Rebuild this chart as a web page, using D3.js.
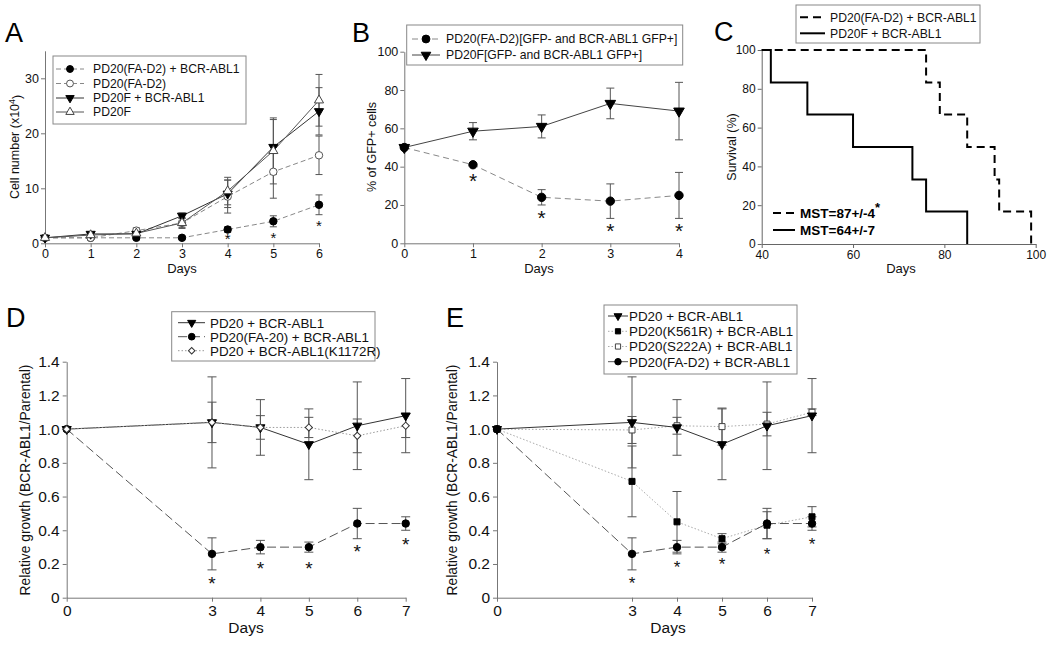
<!DOCTYPE html>
<html><head><meta charset="utf-8">
<script src="https://cdn.jsdelivr.net/npm/d3@7"></script>
<style>body{margin:0;background:#fff} svg text{font-family:"Liberation Sans",Arial,Helvetica,sans-serif}</style>
</head><body><svg id="c" width="1050" height="645"></svg>
<script>
// ---------- DATA ----------
// Panel A
const daysA = [0,1,2,3,4,5,6];
const aFad2Bcr = [1,1,1,1,2.5,4,7];
const aFad2BcrErr = [0.2,0.2,0.2,0.2,0.5,1.0,1.8];
const aFad2 = [1,1,2.3,3.7,8.5,13,16];
const aFad2Err = [0.2,0.3,0.5,1.0,3.0,4.8,3.5];
const aPd20fBcr = [1,1.7,1.7,5,9,17.5,24];
const aPd20fBcrErr = [0.2,0.3,0.3,0.5,2.5,5.0,4.3];
const aPd20f = [1,1.5,1.8,3.7,9.5,16.8,26];
const aPd20fErr = [0.2,0.3,0.3,0.8,2.5,6.0,4.7];
const aStarDays = [4,5,6];
const aStarY = [1.3,1.6,3.8];
const aLabels = ["PD20(FA-D2) + BCR-ABL1","PD20(FA-D2)","PD20F + BCR-ABL1","PD20F"];
const aYTicks = [0,10,20,30];

// Panel B
const daysB = [0,1,2,3,4];
const bFad2 = [50,41,24,22,25];
const bFad2Err = [0,0,4,9,12];
const bPd20f = [50,58.5,61,73,69];
const bPd20fErr = [0,4.5,6,8,15];
const bStarDays = [1,2,3,4];
const bStarY = [34.8,15.7,8.7,8.7];
const bLabels = ["PD20(FA-D2)[GFP- and BCR-ABL1 GFP+]","PD20F[GFP- and BCR-ABL1 GFP+]"];
const bYTicks = [0,20,40,60,80,100];

// Panel C (Kaplan-Meier steps)
const cFad2Times = [40,76,79,85,91,92,99];
const cFad2Surv = [100,83.3,66.7,50,33.3,16.7,0];
const cPd20fTimes = [40,42,50,60,73,76,85];
const cPd20fSurv = [100,83.3,66.7,50,33.3,16.7,0];
const cLabels = ["PD20(FA-D2) + BCR-ABL1","PD20F + BCR-ABL1"];
const cMst = ["MST=87+/-4","MST=64+/-7"];
const cXTicks = [40,60,80,100];
const cYTicks = [0,20,40,60,80,100];

// Panel D
const daysD = [0,3,4,5,6,7];
const dPd20 = [1.0,1.04,1.01,0.91,1.02,1.08];
const dPd20Err = [0,0.27,0.165,0.21,0.26,0.22];
const dFa20 = [1.0,0.26,0.30,0.30,0.44,0.44];
const dFa20Err = [0,0.095,0.04,0.03,0.09,0.04];
const dK1172r = [1.0,1.04,1.01,1.01,0.96,1.02];
const dK1172rErr = [0,0.12,0.07,0.06,0.10,0.07];
const dStarDays = [3,4,5,6,7];
const dStarY = [0.105,0.194,0.194,0.30,0.34];
const dLabels = ["PD20 + BCR-ABL1","PD20(FA-20) + BCR-ABL1","PD20 + BCR-ABL1(K1172R)"];

// Panel E
const daysE = [0,3,4,5,6,7];
const ePd20 = [1.0,1.04,1.01,0.91,1.02,1.08];
const ePd20Err = [0,0.27,0.165,0.21,0.26,0.22];
const eK561r = [1.0,0.69,0.45,0.35,0.43,0.48];
const eK561rErr = [0,0.21,0.18,0.03,0.08,0.06];
const eS222a = [1.0,0.995,1.02,1.015,1.03,1.10];
const eS222aErr = [0,0.08,0.05,0.11,0.07,0.02];
const eFad2 = [1.0,0.26,0.30,0.30,0.44,0.44];
const eFad2Err = [0,0.095,0.04,0.03,0.09,0.04];
const eStarDays = [3,4,5,6,7];
const eStarY = [0.11,0.20,0.22,0.28,0.34];
const eLabels = ["PD20 + BCR-ABL1","PD20(K561R) + BCR-ABL1","PD20(S222A) + BCR-ABL1","PD20(FA-D2) + BCR-ABL1"];

const relXTicks = [0,3,4,5,6,7];
const relYTicks = [0,0.2,0.4,0.6,0.8,1.0,1.2,1.4];

// ---------- DRAWING ----------
const svg = d3.select('#c');

const MK = {
  circleFilled:{sym:d3.symbolCircle,fill:'#000',size:44,rot:0},
  circleOpen:{sym:d3.symbolCircle,fill:'#fff',size:44,rot:0},
  triDown:{sym:d3.symbolTriangle,fill:'#000',size:36,rot:180},
  triUpOpen:{sym:d3.symbolTriangle,fill:'#fff',size:36,rot:0},
  squareFilled:{sym:d3.symbolSquare,fill:'#000',size:36,rot:0},
  squareOpen:{sym:d3.symbolSquare,fill:'#fff',size:36,rot:0},
  diamondOpen:{sym:d3.symbolSquare,fill:'#fff',size:26,rot:45}
};
function marker(g,type,cx,cy,k,stroke){
  const m = MK[type];
  g.append('path').attr('d',d3.symbol(m.sym,m.size*(k||1))())
    .attr('transform',`translate(${cx},${cy}) rotate(${m.rot})`)
    .attr('fill',m.fill).attr('stroke',stroke||'#000').attr('stroke-width',1);
}

function axes(g,x,y,p){
  const ax = g.append('g').attr('transform',`translate(0,${y.range()[0]})`)
    .call(d3.axisBottom(x).tickValues(p.xTicks).tickSize(4).tickSizeOuter(0).tickPadding(p.xPad||2).tickFormat(p.xFmt||(d=>d)));
  const ay = g.append('g').attr('transform',`translate(${x.range()[0]},0)`)
    .call(d3.axisLeft(y).tickValues(p.yTicks).tickSize(4).tickSizeOuter(0).tickPadding(p.yPad||2).tickFormat(p.yFmt||(d=>d)));
  [ax,ay].forEach(a=>{
    a.selectAll('path,line').attr('stroke',p.axisColor||'#777').attr('stroke-width',1);
    a.selectAll('text').attr('font-size',p.tickFs).attr('fill','#111');
  });
}

function series(g,x,y,list,capW){
  list.forEach(s=>{
    g.append('path').attr('d',d3.line()(s.x.map((d,i)=>[x(d),y(s.y[i])])))
      .attr('fill','none').attr('stroke',s.color).attr('stroke-width',s.w||1)
      .attr('stroke-dasharray',s.dash||null);
  });
  list.forEach(s=>{
    if(!s.err) return;
    s.x.forEach((d,i)=>{
      const e=s.err[i]; if(!e) return;
      const cx=x(d), y1=y(s.y[i]-e), y2=y(s.y[i]+e);
      g.append('line').attr('x1',cx).attr('x2',cx).attr('y1',y1).attr('y2',y2).attr('stroke','#555').attr('stroke-width',1);
      [y1,y2].forEach(yy=>g.append('line').attr('x1',cx-capW/2).attr('x2',cx+capW/2).attr('y1',yy).attr('y2',yy).attr('stroke','#555').attr('stroke-width',1));
    });
  });
  list.forEach(s=>{
    s.x.forEach((d,i)=>marker(g,s.mk,x(d),y(s.y[i]),s.k,s.mstroke));
  });
}

function stars(g,x,y,days,vals,fs,weight){
  days.forEach((d,i)=>{
    g.append('text').attr('x',x(d)).attr('y',y(vals[i])+0.55*fs)
      .attr('text-anchor','middle').attr('font-size',fs).attr('font-weight',weight||'normal').attr('fill','#111').text('*');
  });
}

function legend(g,L){
  g.append('rect').attr('x',L.x).attr('y',L.y).attr('width',L.w).attr('height',L.h)
    .attr('fill','#fff').attr('stroke','#888').attr('stroke-width',1);
  L.items.forEach((s,i)=>{
    const ry=L.rows[i];
    g.append('line').attr('x1',L.lx1).attr('x2',L.lx2).attr('y1',ry).attr('y2',ry)
      .attr('stroke',s.color).attr('stroke-width',s.w||1).attr('stroke-dasharray',s.dash||null);
    if(s.mk) marker(g,s.mk,L.mx,ry,L.mk||0.8,s.mstroke);
    g.append('text').attr('x',L.tx).attr('y',ry).attr('dy','0.36em').attr('font-size',L.fs).attr('fill','#111').text(s.label);
  });
}

function titles(g,p){
  g.append('text').attr('x',p.xt[0]).attr('y',p.xt[1]).attr('text-anchor','middle').attr('font-size',p.xtFs).attr('fill','#111').text('Days');
  const yt = g.append('text').attr('transform',`translate(${p.yt[0]},${p.yt[1]}) rotate(-90)`)
    .attr('text-anchor','middle').attr('dy','0.35em').attr('font-size',p.ytFs).attr('fill','#111');
  if(p.ytSup){
    yt.append('tspan').text(p.ytText);
    yt.append('tspan').attr('dy','-0.45em').attr('font-size',p.ytFs*0.7).text(p.ytSup);
    yt.append('tspan').attr('dy','0.45em').text(p.ytTail);
  } else yt.text(p.ytText);
  g.append('text').attr('x',p.letter[0]).attr('y',p.letter[1]).attr('font-size',27).attr('fill','#000').text(p.letterText);
}

// ----- Panel A -----
(function(){
  const g = svg.append('g');
  const x = d3.scaleLinear([0,6],[45,319]);
  const y = d3.scaleLinear([0,35],[243.3,50.8]);
  axes(g,x,y,{xTicks:daysA,yTicks:aYTicks,tickFs:12.5,axisColor:'#777'});
  const S = [
    {x:daysA,y:aFad2Bcr,err:aFad2BcrErr,mk:'circleFilled',color:'#888',dash:'5,3',label:aLabels[0]},
    {x:daysA,y:aFad2,err:aFad2Err,mk:'circleOpen',color:'#888',dash:'5,3',label:aLabels[1],mstroke:'#555'},
    {x:daysA,y:aPd20fBcr,err:aPd20fBcrErr,mk:'triDown',color:'#333',label:aLabels[2]},
    {x:daysA,y:aPd20f,err:aPd20fErr,mk:'triUpOpen',color:'#555',label:aLabels[3],mstroke:'#444'}
  ];
  series(g,x,y,S,7);
  stars(g,x,y,aStarDays,aStarY,15);
  legend(g,{x:53,y:56,w:193,h:68,rows:[69,83.5,98,112],lx1:56,lx2:84,mx:70,tx:93,fs:12.2,items:S,mk:0.85});
  titles(g,{xt:[182,273],xtFs:13,yt:[15,147],ytFs:12.5,ytText:'Cell number (x10',ytSup:'4',ytTail:')',letter:[5,42],letterText:'A'});
})();

// ----- Panel B -----
(function(){
  const g = svg.append('g');
  const x = d3.scaleLinear([0,4],[404.3,679]);
  const y = d3.scaleLinear([0,100],[243.3,51.7]);
  axes(g,x,y,{xTicks:daysB,yTicks:bYTicks,tickFs:12.5});
  const S = [
    {x:daysB,y:bFad2,err:bFad2Err,mk:'circleFilled',color:'#888',dash:'6,4',label:bLabels[0],k:1.25},
    {x:daysB,y:bPd20f,err:bPd20fErr,mk:'triDown',color:'#444',label:bLabels[1],k:1.35}
  ];
  series(g,x,y,S,8);
  stars(g,x,y,bStarDays,bStarY,21);
  legend(g,{x:406.7,y:25,w:276,h:40,rows:[39,55],lx1:412,lx2:440,mx:426,tx:446,fs:12.2,items:S,mk:1.1});
  titles(g,{xt:[539,273],xtFs:13,yt:[372,147],ytFs:12.5,ytText:'% of GFP+ cells',letter:[352,42],letterText:'B'});
})();

// ----- Panel C -----
(function(){
  const g = svg.append('g');
  const x = d3.scaleLinear([40,100],[761.7,1035.7]);
  const y = d3.scaleLinear([0,100],[244,50]);
  axes(g,x,y,{xTicks:cXTicks,yTicks:cYTicks,tickFs:12,axisColor:'#666'});
  const line = d3.line().curve(d3.curveStepAfter);
  g.append('path').attr('d',line(cPd20fTimes.map((t,i)=>[x(t),y(cPd20fSurv[i])])))
    .attr('fill','none').attr('stroke','#000').attr('stroke-width',2);
  g.append('path').attr('d',line(cFad2Times.map((t,i)=>[x(t),y(cFad2Surv[i])])))
    .attr('fill','none').attr('stroke','#000').attr('stroke-width',2).attr('stroke-dasharray','8,5');
  const items=[{color:'#000',w:2,dash:'8,5',label:cLabels[0]},{color:'#000',w:2,label:cLabels[1]}];
  legend(g,{x:796,y:5,w:184,h:38,rows:[17.3,33.3],lx1:800,lx2:825,tx:830,fs:12.2,items:items});
  // MST annotation
  [213,230].forEach((ry,i)=>{
    g.append('line').attr('x1',773).attr('x2',795).attr('y1',ry).attr('y2',ry).attr('stroke','#000').attr('stroke-width',2)
      .attr('stroke-dasharray',i===0?'8,5':null);
    const t=g.append('text').attr('x',800).attr('y',ry).attr('dy','0.36em').attr('font-size',13.5).attr('font-weight','bold').attr('fill','#000');
    t.append('tspan').text(cMst[i]);
    if(i===0) t.append('tspan').attr('dy','-0.45em').attr('font-size',13).text('*');
  });
  titles(g,{xt:[901,273],xtFs:13,yt:[732,147],ytFs:12.5,ytText:'Survival (%)',letter:[714,41],letterText:'C'});
})();

const relFmt = d=> d===0 ? '0' : d.toFixed(1);

// ----- Panel D -----
(function(){
  const g = svg.append('g');
  const x = d3.scaleLinear([0,7],[66.7,405.7]);
  const y = d3.scaleLinear([0,1.4],[597.7,361.7]);
  axes(g,x,y,{xTicks:relXTicks,yTicks:relYTicks,tickFs:15.5,yFmt:relFmt,xPad:3,yPad:3});
  const S = [
    {x:daysD,y:dFa20,err:dFa20Err,mk:'circleFilled',color:'#555',dash:'9,4',label:dLabels[1]},
    {x:daysD,y:dPd20,err:dPd20Err,mk:'triDown',color:'#333',label:dLabels[0]},
    {x:daysD,y:dK1172r,err:dK1172rErr,mk:'diamondOpen',color:'#999',dash:'1.5,2',label:dLabels[2],mstroke:'#333'}
  ];
  series(g,x,y,S,9);
  stars(g,x,y,dStarDays,dStarY,19);
  legend(g,{x:171.7,y:311.7,w:203.3,h:49.3,rows:[322.7,336.7,350.7],lx1:178,lx2:205,mx:191.7,tx:210,fs:13.4,items:[S[1],S[0],S[2]],mk:0.8});
  titles(g,{xt:[246,633],xtFs:15.5,yt:[25,480],ytFs:13.8,ytText:'Relative growth (BCR-ABL1/Parental)',letter:[6,327],letterText:'D'});
})();

// ----- Panel E -----
(function(){
  const g = svg.append('g');
  const x = d3.scaleLinear([0,7],[497,812]);
  const y = d3.scaleLinear([0,1.4],[597.7,361.7]);
  axes(g,x,y,{xTicks:relXTicks,yTicks:relYTicks,tickFs:15.5,yFmt:relFmt,xPad:3,yPad:3});
  const S = [
    {x:daysE,y:eK561r,err:eK561rErr,mk:'squareFilled',color:'#aaa',dash:'1.5,2',label:eLabels[1]},
    {x:daysE,y:eS222a,err:eS222aErr,mk:'squareOpen',color:'#aaa',dash:'1.5,2',label:eLabels[2],mstroke:'#444'},
    {x:daysE,y:eFad2,err:eFad2Err,mk:'circleFilled',color:'#555',dash:'9,4',label:eLabels[3]},
    {x:daysE,y:ePd20,err:ePd20Err,mk:'triDown',color:'#333',label:eLabels[0]}
  ];
  series(g,x,y,S,9);
  stars(g,x,y,eStarDays,eStarY,17);
  legend(g,{x:604,y:305,w:193,h:69,rows:[316,331.3,346.5,361.7],lx1:608,lx2:628,mx:618,tx:629,fs:13.4,items:[S[3],S[0],S[1],S[2]],mk:0.75});
  titles(g,{xt:[668,633],xtFs:15.5,yt:[452,480],ytFs:13.8,ytText:'Relative growth (BCR-ABL1/Parental)',letter:[446,327],letterText:'E'});
})();
</script></body></html>
